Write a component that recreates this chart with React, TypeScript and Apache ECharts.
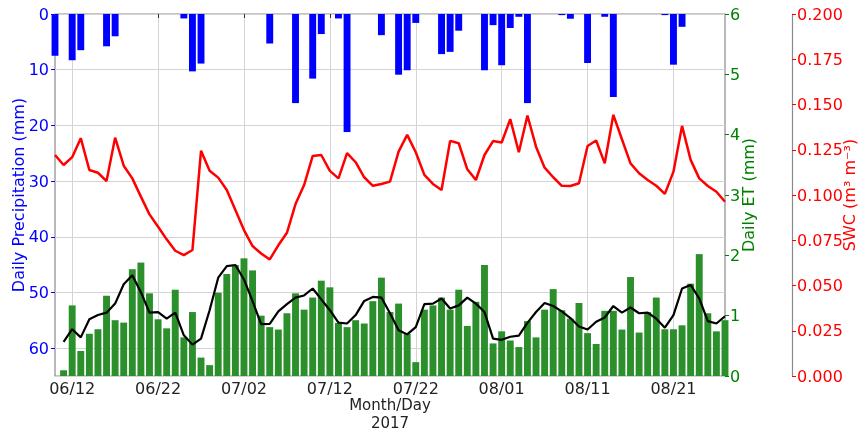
import React, { useEffect, useRef } from "react";
import * as echarts from "echarts";

// Days from 2017-06-10 to 2017-08-27 (category labels MM/DD)
const START_UTC = Date.UTC(2017, 5, 10);
const DAY_COUNT = 79;
const dates: string[] = Array.from({ length: DAY_COUNT }, (_, i) => {
  const d = new Date(START_UTC + i * 86400000);
  return (
    String(d.getUTCMonth() + 1).padStart(2, "0") +
    "/" +
    String(d.getUTCDate()).padStart(2, "0")
  );
});

// Daily precipitation (mm)
const precipitation: number[] = [
  7.5, 0, 8.3, 6.5, 0, 0, 5.8, 4.0, 0, 0,
  0, 0, 0, 0, 0, 0.8, 10.3, 8.9, 0, 0,
  0, 0, 0, 0, 0, 5.3, 0, 0, 16.0, 0,
  11.6, 3.6, 0, 0.8, 21.2, 0, 0, 0, 3.8, 0,
  10.9, 10.1, 1.6, 0, 0, 7.2, 6.8, 3.0, 0, 0,
  10.1, 2.0, 9.2, 2.5, 0.5, 16.0, 0, 0, 0, 0.2,
  0.85, 0, 8.8, 0, 0.5, 14.9, 0, 0, 0, 0,
  0, 0.2, 9.1, 2.3, 0, 0, 0, 0, 0,
];

// Daily ET (mm)
const dailyET: (number | null)[] = [
  null, 0.095, 1.17, 0.415, 0.7, 0.775, 1.33, 0.925, 0.885, 1.77,
  1.88, 1.37, 0.94, 0.79, 1.43, 0.64, 1.06, 0.305, 0.18, 1.38,
  1.69, 1.84, 1.95, 1.75, 1.0, 0.81, 0.77, 1.04, 1.37, 1.1,
  1.3, 1.58, 1.47, 0.88, 0.81, 0.925, 0.87, 1.24, 1.63, 1.06,
  1.2, 0.7, 0.23, 1.1, 1.17, 1.3, 1.1, 1.43, 0.83, 1.23,
  1.84, 0.54, 0.74, 0.59, 0.48, 0.91, 0.64, 1.1, 1.44, 1.09,
  0.95, 1.21, 0.71, 0.53, 1.08, 1.08, 0.77, 1.64, 0.72, 1.06,
  1.3, 0.775, 0.775, 0.84, 1.53, 2.02, 1.04, 0.74, 0.925,
];

// Smoothed ET (mm), black line
const smoothedET: (number | null)[] = [
  null, 0.565, 0.775, 0.64, 0.94, 1.01, 1.05, 1.2, 1.52, 1.67,
  1.39, 1.05, 1.06, 0.95, 1.05, 0.675, 0.52, 0.62, 1.09, 1.63,
  1.82, 1.84, 1.6, 1.24, 0.86, 0.865, 1.07, 1.19, 1.3, 1.335,
  1.45, 1.27, 1.09, 0.885, 0.87, 1.01, 1.245, 1.31, 1.3, 1.04,
  0.76, 0.69, 0.81, 1.19, 1.2, 1.285, 1.12, 1.17, 1.3, 1.2,
  1.06, 0.62, 0.6, 0.65, 0.67, 0.88, 1.06, 1.21, 1.16, 1.07,
  0.96, 0.82, 0.77, 0.9, 0.97, 1.16, 1.05, 1.135, 1.04, 1.05,
  0.95, 0.8, 1.01, 1.45, 1.51, 1.285, 0.91, 0.87, 0.99,
];

// Soil water content (m3 m-3)
const swc: number[] = [
  0.1221, 0.1166, 0.1209, 0.1314, 0.1138, 0.1123, 0.1077, 0.1317, 0.1162, 0.1092,
  0.0991, 0.0893, 0.0825, 0.0755, 0.0692, 0.0668, 0.0696, 0.1245, 0.1134, 0.1096,
  0.1028, 0.0917, 0.0806, 0.0718, 0.0677, 0.0644, 0.0722, 0.0791, 0.095, 0.1055,
  0.1216, 0.1221, 0.1133, 0.1092, 0.1231, 0.1181, 0.1098, 0.1051, 0.1061, 0.1074,
  0.124, 0.1332, 0.1236, 0.1111, 0.1061, 0.1028, 0.1299, 0.1286, 0.1142, 0.1083,
  0.1221, 0.1298, 0.129, 0.1419, 0.1236, 0.1439, 0.1267, 0.1151, 0.1098, 0.1051,
  0.105, 0.1065, 0.1271, 0.1301, 0.1175, 0.1443, 0.1308, 0.1175, 0.112, 0.1083,
  0.1051, 0.1006, 0.1129, 0.1382, 0.1194, 0.1092, 0.105, 0.1018, 0.0963,
];

const FONT = "DejaVu Sans";
const SPINE = "#8a8a8a";
const GRIDLINE = "#d4d4d4";
const BLUE = "#0000ff";
const GREEN = "#008000";
const BAR_GREEN = "#2b8f2b";
const RED = "#ff0000";

const tickEvery10 = (index: number) => index % 10 === 2;

export default function App() {
  const ref = useRef<HTMLDivElement>(null);

  useEffect(() => {
    if (!ref.current) return;
    const chart = echarts.init(ref.current, undefined, { renderer: "svg" });
    chart.setOption({
      animation: false,
      textStyle: { fontFamily: FONT },
      grid: {
        left: 55,
        right: 138,
        top: 14,
        bottom: 55,
        containLabel: false,
        outerBoundsMode: "none",
        show: true,
        borderColor: SPINE,
        borderWidth: 1.2,
        backgroundColor: "transparent",
      },
      xAxis: {
        type: "category",
        data: dates,
        boundaryGap: false,
        axisLine: { show: false },
        axisTick: {
          show: true,
          interval: tickEvery10,
          length: 4,
          lineStyle: { color: "#333" },
        },
        axisLabel: {
          interval: tickEvery10,
          color: "#222",
          fontSize: 16,
          margin: 4,
          fontFamily: FONT,
        },
        splitLine: {
          show: true,
          interval: tickEvery10,
          lineStyle: { color: GRIDLINE, width: 1 },
        },
        name: "Month/Day\n2017",
        nameLocation: "middle",
        nameGap: 20.5,
        nameMoveOverlap: false,
        nameTextStyle: {
          color: "#222",
          fontSize: 15,
          lineHeight: 17.5,
          fontFamily: FONT,
        },
      },
      yAxis: [
        {
          type: "value",
          position: "left",
          inverse: true,
          min: 0,
          max: 65,
          interval: 10,
          axisLine: { show: false },
          axisTick: { show: true, length: 4, lineStyle: { color: BLUE } },
          axisLabel: {
            color: BLUE,
            fontSize: 16,
            margin: 6,
            fontFamily: FONT,
            showMaxLabel: false,
          },
          splitLine: { show: true, lineStyle: { color: GRIDLINE, width: 1 } },
          name: "Daily Precipitation (mm)",
          nameLocation: "middle",
          nameGap: 29,
          nameMoveOverlap: false,
          nameTextStyle: { color: BLUE, fontSize: 16, fontFamily: FONT },
        },
        {
          type: "value",
          position: "right",
          min: 0,
          max: 6,
          interval: 1,
          axisLine: { show: false },
          axisTick: { show: true, length: 4, lineStyle: { color: GREEN } },
          axisLabel: { color: GREEN, fontSize: 16, margin: 5, fontFamily: FONT },
          splitLine: { show: false },
          name: "Daily ET (mm)",
          nameLocation: "middle",
          nameGap: 15,
          nameMoveOverlap: false,
          nameTextStyle: { color: GREEN, fontSize: 16, fontFamily: FONT },
        },
        {
          type: "value",
          position: "right",
          offset: 67,
          min: 0,
          max: 0.2,
          interval: 0.025,
          axisLine: { show: true, lineStyle: { color: SPINE, width: 1.2 } },
          axisTick: { show: true, length: 4, lineStyle: { color: RED } },
          axisLabel: {
            color: RED,
            fontSize: 16,
            margin: 5,
            fontFamily: FONT,
            formatter: (v: number) => v.toFixed(3),
          },
          splitLine: { show: false },
          name: "SWC (m\u00B3 m\u207B\u00B3)",
          nameLocation: "middle",
          nameGap: 49,
          nameMoveOverlap: false,
          nameTextStyle: { color: RED, fontSize: 16, fontFamily: FONT },
        },
      ],
      series: [
        {
          name: "Precipitation",
          type: "bar",
          xAxisIndex: 0,
          yAxisIndex: 0,
          data: precipitation,
          barWidth: 6.9,
          barGap: "-100%",
          itemStyle: { color: BLUE },
          z: 2,
        },
        {
          name: "ET",
          type: "bar",
          xAxisIndex: 0,
          yAxisIndex: 1,
          data: dailyET,
          barWidth: 6.9,
          barGap: "-100%",
          itemStyle: { color: BAR_GREEN },
          z: 2,
        },
        {
          name: "ET smoothed",
          type: "line",
          xAxisIndex: 0,
          yAxisIndex: 1,
          data: smoothedET,
          showSymbol: false,
          symbol: "none",
          lineStyle: { color: "#000", width: 2.2 },
          z: 4,
        },
        {
          name: "SWC",
          type: "line",
          xAxisIndex: 0,
          yAxisIndex: 2,
          data: swc,
          showSymbol: false,
          symbol: "none",
          lineStyle: { color: RED, width: 2.5 },
          z: 5,
        },
      ],
    });
    return () => chart.dispose();
  }, []);

  return (
    <div
      ref={ref}
      style={{ position: "fixed", left: 0, top: 0, width: 863, height: 431 }}
    />
  );
}
